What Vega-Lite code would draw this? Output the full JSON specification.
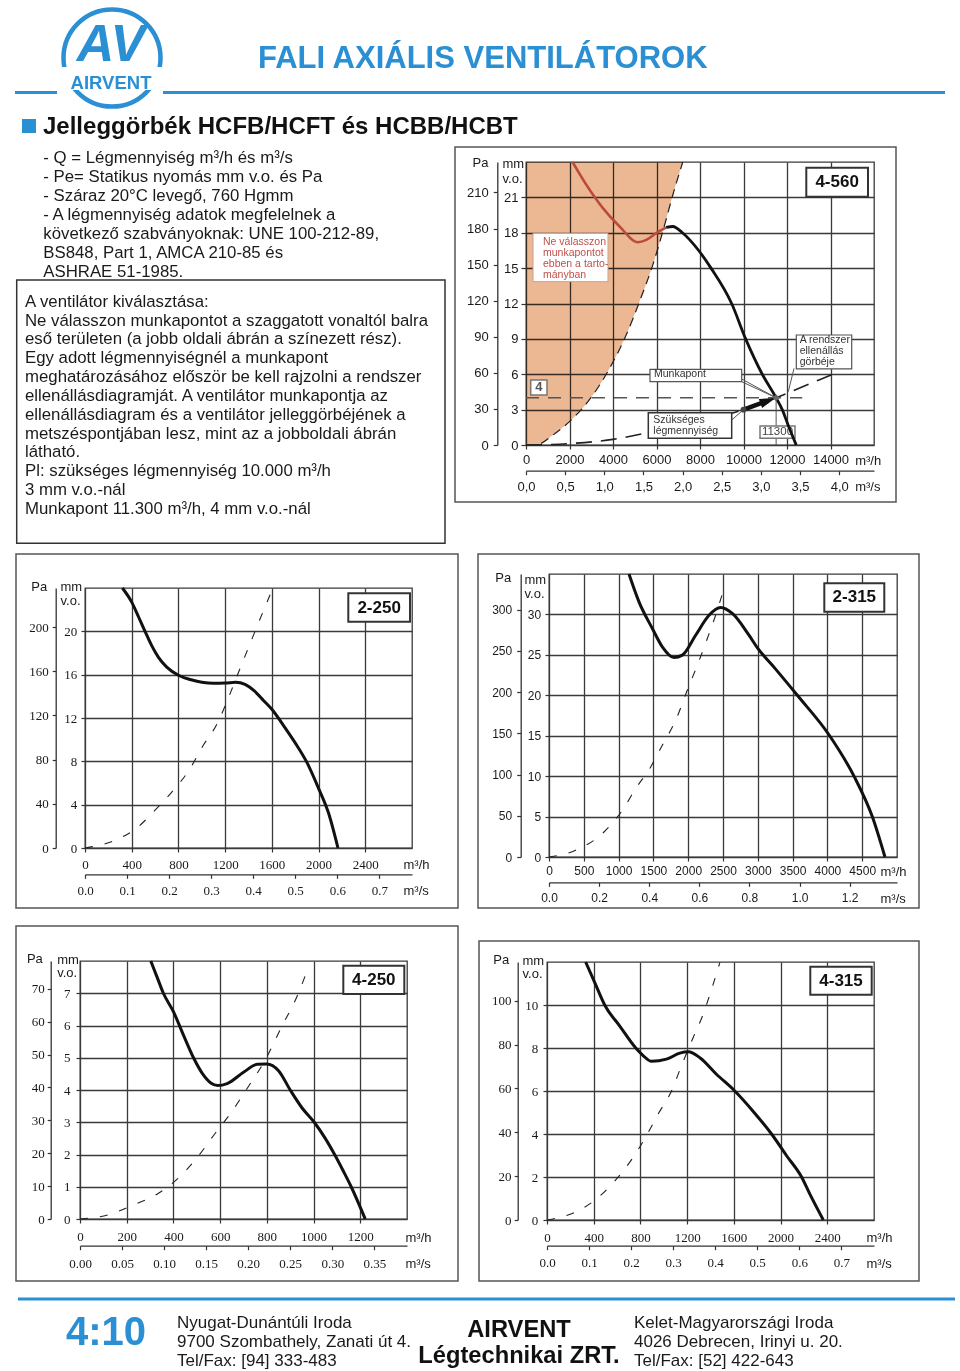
{
"$schema": "https://vega.github.io/schema/vega-lite/v6.json",
"padding": 0,
"background": "white",
"spacing": 0,
"config": {
  "font": "Liberation Sans",
  "view": {"stroke": null, "strokeWidth": 0},
  "axis": {"grid": false, "labelFlush": false, "labelOverlap": false, "gridColor": "#3a3a3a", "gridWidth": 1.3, "gridOpacity": 1, "tickColor": "#333", "tickWidth": 1.2, "domainColor": "#333", "domainWidth": 1.3, "labelColor": "#1a1a1a", "titleColor": "#1a1a1a", "titleFont": "Liberation Sans", "titleFontSize": 13, "titleFontWeight": "normal", "titleAngle": 0}
},
"datasets": {
  "zone_4560": [{"q":0,"mm":0},{"q":300,"mm":0.02},{"q":630,"mm":0.1},{"q":1240,"mm":0.85},{"q":2158,"mm":2.26},{"q":3076,"mm":4.24},{"q":3843,"mm":6.5},{"q":4610,"mm":9.34},{"q":5220,"mm":12.17},{"q":5831,"mm":15.28},{"q":6290,"mm":18.1},{"q":6749,"mm":21.2},{"q":7208,"mm":24}],
  "red_4560": [{"q":2140,"mm":24},{"q":2773,"mm":22.07},{"q":3535,"mm":20.09},{"q":4302,"mm":18.53},{"q":5143,"mm":17.2},{"q":5528,"mm":17.4},{"q":5987,"mm":17.97},{"q":6446,"mm":18.45}],
  "fan_4560": [{"q":6446,"mm":18.45},{"q":6749,"mm":18.53},{"q":7191,"mm":18.0},{"q":7975,"mm":16.41},{"q":8507,"mm":15.0},{"q":9455,"mm":12.0},{"q":10098,"mm":9.0},{"q":10863,"mm":6.0},{"q":11500,"mm":4.0},{"q":11781,"mm":3.0},{"q":12050,"mm":1.7},{"q":12424,"mm":0}],
  "sys_4560": [{"q":0,"mm":0},{"q":2000,"mm":0.12},{"q":4000,"mm":0.48},{"q":5500,"mm":1.0},{"q":7000,"mm":1.55},{"q":8500,"mm":2.2},{"q":10000,"mm":3.0},{"q":11500,"mm":4.0},{"q":12800,"mm":5.0},{"q":14100,"mm":6.0}],
  "fan_2250": [{"q":320,"mm":24},{"q":400,"mm":22.7},{"q":460,"mm":21.3},{"q":514,"mm":20.0},{"q":570,"mm":18.7},{"q":629,"mm":17.6},{"q":700,"mm":16.7},{"q":800,"mm":15.95},{"q":900,"mm":15.55},{"q":1000,"mm":15.3},{"q":1100,"mm":15.2},{"q":1200,"mm":15.22},{"q":1290,"mm":15.3},{"q":1370,"mm":15.1},{"q":1450,"mm":14.5},{"q":1530,"mm":13.6},{"q":1600,"mm":12.8},{"q":1700,"mm":11.3},{"q":1800,"mm":9.7},{"q":1900,"mm":7.9},{"q":2000,"mm":5.5},{"q":2086,"mm":3.2},{"q":2166,"mm":0}],
  "sys_2250": [{"q":0,"mm":0},{"q":257,"mm":0.71},{"q":443,"mm":1.85},{"q":600,"mm":3.49},{"q":757,"mm":5.34},{"q":886,"mm":7.1},{"q":1014,"mm":9.5},{"q":1129,"mm":11.42},{"q":1229,"mm":13.89},{"q":1314,"mm":16.2},{"q":1400,"mm":18.5},{"q":1486,"mm":20.8},{"q":1586,"mm":23.4}],
  "fan_2315": [{"q":1149,"mm":35},{"q":1293,"mm":31.56},{"q":1485,"mm":28.26},{"q":1628,"mm":26.0},{"q":1796,"mm":24.67},{"q":1916,"mm":24.96},{"q":2107,"mm":27.43},{"q":2299,"mm":29.9},{"q":2466,"mm":30.86},{"q":2634,"mm":30.12},{"q":2873,"mm":27.43},{"q":3000,"mm":25.8},{"q":3250,"mm":23.3},{"q":3568,"mm":20.0},{"q":4032,"mm":15.0},{"q":4382,"mm":10.0},{"q":4645,"mm":5.0},{"q":4827,"mm":0}],
  "sys_2315": [{"q":0,"mm":0},{"q":383,"mm":0.83},{"q":790,"mm":3.09},{"q":1054,"mm":5.78},{"q":1245,"mm":8.46},{"q":1461,"mm":11.14},{"q":1628,"mm":13.82},{"q":1820,"mm":16.91},{"q":1987,"mm":20.63},{"q":2131,"mm":23.72},{"q":2275,"mm":27.02},{"q":2394,"mm":29.9},{"q":2514,"mm":33.2}],
  "fan_4250": [{"q":303,"mm":8.0},{"q":330,"mm":7.5},{"q":357,"mm":7.0},{"q":400,"mm":6.43},{"q":443,"mm":5.7},{"q":486,"mm":5.0},{"q":525,"mm":4.5},{"q":560,"mm":4.22},{"q":590,"mm":4.14},{"q":630,"mm":4.2},{"q":700,"mm":4.55},{"q":760,"mm":4.8},{"q":800,"mm":4.81},{"q":850,"mm":4.6},{"q":900,"mm":4.0},{"q":950,"mm":3.45},{"q":1003,"mm":3.0},{"q":1050,"mm":2.5},{"q":1090,"mm":2.0},{"q":1130,"mm":1.45},{"q":1161,"mm":1.0},{"q":1221,"mm":0}],
  "sys_4250": [{"q":0,"mm":0},{"q":121,"mm":0.13},{"q":221,"mm":0.41},{"q":336,"mm":0.8},{"q":421,"mm":1.27},{"q":500,"mm":1.89},{"q":579,"mm":2.66},{"q":650,"mm":3.33},{"q":721,"mm":4.11},{"q":793,"mm":4.93},{"q":864,"mm":5.97},{"q":929,"mm":6.9},{"q":979,"mm":7.83}],
  "fan_4315": [{"q":331,"mm":12.0},{"q":409,"mm":11.04},{"q":494,"mm":10.0},{"q":623,"mm":9.02},{"q":760,"mm":8.0},{"q":823,"mm":7.65},{"q":894,"mm":7.38},{"q":1023,"mm":7.48},{"q":1137,"mm":7.76},{"q":1209,"mm":7.82},{"q":1309,"mm":7.55},{"q":1451,"mm":6.78},{"q":1608,"mm":6.0},{"q":1766,"mm":5.05},{"q":1923,"mm":4.0},{"q":2050,"mm":3.0},{"q":2180,"mm":2.0},{"q":2251,"mm":1.2},{"q":2366,"mm":0}],
  "sys_4315": [{"q":0,"mm":0},{"q":251,"mm":0.39},{"q":423,"mm":0.98},{"q":594,"mm":1.9},{"q":737,"mm":2.91},{"q":851,"mm":3.92},{"q":951,"mm":4.92},{"q":1066,"mm":6.0},{"q":1151,"mm":7.17},{"q":1251,"mm":8.48},{"q":1337,"mm":9.57},{"q":1409,"mm":10.73},{"q":1480,"mm":11.97}]
},
"vconcat": [
  {
    "width": 960, "height": 137, "view": {"stroke": null, "strokeWidth": 0},
    "layer": [
      {"data": {"values": [{}]}, "mark": {"type": "point", "shape": "circle", "filled": false, "size": 9409, "strokeWidth": 4.5, "color": "#2B8FD3", "opacity": 1},
       "encoding": {"x": {"datum": 112, "type": "quantitative", "scale": {"domain": [0, 960], "nice": false, "zero": false}, "axis": null},
                    "y": {"datum": 55, "type": "quantitative", "scale": {"domain": [0, 137], "nice": false, "zero": false, "reverse": true}, "axis": null}}},
      {"data": {"values": [{}]}, "mark": {"type": "rect", "fill": "white"},
       "encoding": {"x": {"datum": 58, "type": "quantitative", "axis": null}, "x2": {"datum": 167}, "y": {"datum": 64, "type": "quantitative", "axis": null}, "y2": {"datum": 87}}},
      {"data": {"values": [{"t": "AV"}]}, "mark": {"type": "text", "fontSize": 52, "fontWeight": "bold", "fontStyle": "italic", "color": "#2B8FD3", "align": "center", "baseline": "alphabetic"},
       "encoding": {"text": {"field": "t"}, "x": {"datum": 111, "type": "quantitative", "axis": null}, "y": {"datum": 58, "type": "quantitative", "axis": null}}},
      {"data": {"values": [{"t": "AIRVENT"}]}, "mark": {"type": "text", "fontSize": 18.5, "fontWeight": "bold", "color": "#2B8FD3", "align": "center", "baseline": "alphabetic"},
       "encoding": {"text": {"field": "t"}, "x": {"datum": 111, "type": "quantitative", "axis": null}, "y": {"datum": 86, "type": "quantitative", "axis": null}}},
      {"data": {"values": [{}]}, "mark": {"type": "rule", "color": "#2B8FD3", "strokeWidth": 3.2},
       "encoding": {"x": {"datum": 15, "type": "quantitative", "axis": null}, "x2": {"datum": 57}, "y": {"datum": 89.5, "type": "quantitative", "axis": null}}},
      {"data": {"values": [{}]}, "mark": {"type": "rule", "color": "#2B8FD3", "strokeWidth": 3.2},
       "encoding": {"x": {"datum": 163, "type": "quantitative", "axis": null}, "x2": {"datum": 945}, "y": {"datum": 89.5, "type": "quantitative", "axis": null}}},
      {"data": {"values": [{"t": "FALI AXIÁLIS VENTILÁTOROK"}]}, "mark": {"type": "text", "fontSize": 31, "fontWeight": "bold", "color": "#2B8FD3", "align": "left", "baseline": "alphabetic"},
       "encoding": {"text": {"field": "t"}, "x": {"datum": 258, "type": "quantitative", "axis": null}, "y": {"datum": 65, "type": "quantitative", "axis": null}}},
      {"data": {"values": [{}]}, "mark": {"type": "rect", "fill": "#2B8FD3"},
       "encoding": {"x": {"datum": 22, "type": "quantitative", "axis": null}, "x2": {"datum": 36}, "y": {"datum": 116, "type": "quantitative", "axis": null}, "y2": {"datum": 130}}},
      {"data": {"values": [{"t": "Jelleggörbék HCFB/HCFT és HCBB/HCBT"}]}, "mark": {"type": "text", "fontSize": 24, "fontWeight": "bold", "color": "#111", "align": "left", "baseline": "alphabetic"},
       "encoding": {"text": {"field": "t"}, "x": {"datum": 43, "type": "quantitative", "axis": null}, "y": {"datum": 131, "type": "quantitative", "axis": null}}}
    ]
  },
  {
    "spacing": 0,
    "hconcat": [
      {
        "width": 450, "height": 407, "view": {"stroke": null, "strokeWidth": 0},
        "layer": [
          {"data": {"values": [{"lines": ["- Q = Légmennyiség m³/h és m³/s", "- Pe= Statikus nyomás mm v.o. és Pa", "- Száraz 20°C levegő, 760 Hgmm", "- A légmennyiség adatok megfelelnek a", "\u00a0\u00a0következő szabványoknak: UNE 100-212-89,", "\u00a0\u00a0BS848, Part 1, AMCA 210-85 és", "\u00a0\u00a0ASHRAE 51-1985."]}]},
           "mark": {"type": "text", "fontSize": 16.8, "color": "#1a1a1a", "align": "left", "baseline": "alphabetic", "lineHeight": 19.1},
           "encoding": {"text": {"field": "lines"}, "x": {"datum": 43.3, "type": "quantitative", "scale": {"domain": [0, 450], "nice": false, "zero": false}, "axis": null},
                        "y": {"datum": 162.7, "type": "quantitative", "scale": {"domain": [140, 547], "nice": false, "zero": false, "reverse": true}, "axis": null}}},
          {"data": {"values": [{}]}, "mark": {"type": "rect", "filled": false, "stroke": "#333", "strokeWidth": 1.5},
           "encoding": {"x": {"datum": 16.7, "type": "quantitative", "axis": null}, "x2": {"datum": 445}, "y": {"datum": 280, "type": "quantitative", "axis": null}, "y2": {"datum": 543.3}}},
          {"data": {"values": [{"lines": ["A ventilátor kiválasztása:", "Ne válasszon munkapontot a szaggatott vonaltól balra", "eső területen (a jobb oldali ábrán a színezett rész).", "Egy adott légmennyiségnél a munkapont", "meghatározásához először be kell rajzolni a rendszer", "ellenállásdiagramját. A ventilátor munkapontja az", "ellenállásdiagram és a ventilátor jelleggörbéjének a", "metszéspontjában lesz, mint az a jobboldali ábrán", "látható.", "\u00a0", "Pl: szükséges légmennyiség 10.000 m³/h", "\u00a0\u00a0\u00a0\u00a0\u00a03 mm v.o.-nál", "\u00a0\u00a0\u00a0\u00a0\u00a0Munkapont 11.300 m³/h, 4 mm v.o.-nál"]}]},
           "mark": {"type": "text", "fontSize": 16.8, "color": "#1a1a1a", "align": "left", "baseline": "alphabetic", "lineHeight": 18.84},
           "encoding": {"text": {"field": "lines"}, "x": {"datum": 25, "type": "quantitative", "axis": null}, "y": {"datum": 306.7, "type": "quantitative", "axis": null}}}
        ]
      },
      {"spacing": 0, "hconcat": [
        {"width": 1, "height": 1, "view": {"stroke": null, "strokeWidth": 0}, "data": {"values": [{}]}, "mark": {"type": "rect", "opacity": 0}, "encoding": {"x": {"datum": 0, "type": "quantitative", "scale": {"domain": [0, 1], "nice": false, "zero": false}, "axis": null}, "x2": {"datum": 1}, "y": {"datum": 0, "type": "quantitative", "scale": {"domain": [0, 1], "nice": false, "zero": false}, "axis": null}, "y2": {"datum": 1}}},
        {"spacing": 0, "vconcat": [
          {"width": 1, "height": 1, "view": {"stroke": null, "strokeWidth": 0}, "data": {"values": [{}]}, "mark": {"type": "rect", "opacity": 0}, "encoding": {"x": {"datum": 0, "type": "quantitative", "scale": {"domain": [0, 1], "nice": false, "zero": false}, "axis": null}, "x2": {"datum": 1}, "y": {"datum": 0, "type": "quantitative", "scale": {"domain": [0, 1], "nice": false, "zero": false}, "axis": null}, "y2": {"datum": 1}}},
          {
            "width": 348, "height": 283, "view": {"stroke": "#3a3a3a", "strokeWidth": 1.3},
            "layer": [
              {"data": {"values": [{}]}, "mark": {"type": "rect", "opacity": 0},
               "encoding": {"x": {"datum": -3388.5, "type": "quantitative", "scale": {"domain": [0, 16000], "nice": false, "zero": false}, "axis": null}, "x2": {"datum": 19940.2},
                            "y": {"datum": 25.6707, "type": "quantitative", "scale": {"domain": [0, 24], "nice": false, "zero": false}, "axis": null}, "y2": {"datum": -8.6247}}},
              {"data": {"values": [{}]}, "mark": {"type": "rect", "filled": false, "stroke": "#555", "strokeWidth": 1.5},
               "encoding": {"x": {"datum": -3264.4, "type": "quantitative", "axis": null}, "x2": {"datum": 17011.5}, "y": {"datum": 25.272, "type": "quantitative", "axis": null}, "y2": {"datum": -4.834}}},
              {"data": {"name": "zone_4560"}, "mark": {"type": "area", "interpolate": "monotone", "color": "#EBB893", "opacity": 1, "blend": "multiply"},
               "encoding": {"x": {"field": "q", "type": "quantitative", "axis": null}, "y": {"field": "mm", "type": "quantitative", "axis": null}, "y2": {"datum": 24}}},
              {"data": {"name": "zone_4560"}, "mark": {"type": "line", "interpolate": "monotone", "color": "#222", "strokeWidth": 1.2, "strokeDash": [9, 6]},
               "encoding": {"x": {"field": "q", "type": "quantitative", "axis": null}, "y": {"field": "mm", "type": "quantitative", "axis": null}}},
              {"data": {"name": "sys_4560"}, "mark": {"type": "line", "interpolate": "monotone", "color": "#222", "strokeWidth": 1.6, "strokeDash": [16, 9]},
               "encoding": {"x": {"field": "q", "type": "quantitative", "axis": {"orient": "bottom", "offset": 25.7, "values": [0, 1800, 3600, 5400, 7200, 9000, 10800, 12600, 14400], "labelExpr": "replace(format(datum.value/3600,'.1f'),'.',',')", "domain": true, "tickSize": 4, "labelFontSize": 13, "labelPadding": 5.4, "title": "m³/s", "titleX": 328.7, "titleY": 19.7, "titleAlign": "left", "titleBaseline": "alphabetic", "titleAngle": 0}},
                            "y": {"field": "mm", "type": "quantitative", "axis": {"orient": "left", "offset": 28.7, "values": [0, 3.0591, 6.1183, 9.1774, 12.2366, 15.2957, 18.3549, 21.414], "labelExpr": "format(round(datum.value*9.80665),'d')", "domain": true, "tickSize": 4, "labelFontSize": 13, "labelPadding": 5, "title": "Pa", "titleX": -9.3, "titleY": 4, "titleAlign": "right", "titleBaseline": "alphabetic", "titleAngle": 0}}}},
              {"data": {"values": [{}]}, "mark": {"type": "rule", "color": "#555", "strokeWidth": 1.5, "strokeDash": [13, 9]},
               "encoding": {"x": {"datum": 0, "type": "quantitative", "axis": null}, "x2": {"datum": 12700}, "y": {"datum": 4, "type": "quantitative", "axis": null}}},
              {"data": {"values": [{}]}, "mark": {"type": "rule", "color": "#555", "strokeWidth": 1},
               "encoding": {"x": {"datum": 11500, "type": "quantitative", "axis": null}, "y": {"datum": 4, "type": "quantitative", "axis": null}, "y2": {"datum": 0}}},
              {"data": {"values": [{}]}, "mark": {"type": "rect", "fill": "white", "stroke": "#777", "strokeWidth": 1.5},
               "encoding": {"x": {"datum": 10759, "type": "quantitative", "axis": null}, "x2": {"datum": 12368}, "y": {"datum": 1.61, "type": "quantitative", "axis": null}, "y2": {"datum": 0.57}}},
              {"data": {"values": [{"lines": "11300"}]}, "mark": {"type": "text", "fontSize": 11.5, "color": "#444", "align": "center", "baseline": "middle"},
               "encoding": {"text": {"field": "lines"}, "x": {"datum": 11563, "type": "quantitative", "axis": null}, "y": {"datum": 1.09, "type": "quantitative", "axis": null}}},
              {"data": {"name": "red_4560"}, "mark": {"type": "line", "interpolate": "monotone", "color": "#BE4A3C", "strokeWidth": 2.5},
               "encoding": {"x": {"field": "q", "type": "quantitative", "axis": null}, "y": {"field": "mm", "type": "quantitative", "axis": null}}},
              {"data": {"name": "fan_4560"}, "mark": {"type": "line", "interpolate": "monotone", "color": "#111", "strokeWidth": 2.8},
               "encoding": {"x": {"field": "q", "type": "quantitative", "axis": {"orient": "bottom", "values": [0, 2000, 4000, 6000, 8000, 10000, 12000, 14000], "format": "d", "grid": true, "domain": false, "tickSize": 4, "labelFontSize": 13, "labelPadding": 4.7, "title": "m³/h", "titleX": 328.7, "titleY": 19, "titleAlign": "left", "titleBaseline": "alphabetic", "titleAngle": 0}},
                            "y": {"field": "mm", "type": "quantitative", "axis": {"orient": "left", "values": [0, 3, 6, 9, 12, 15, 18, 21], "format": "d", "grid": true, "domain": false, "tickSize": 5, "labelFontSize": 13, "labelPadding": 3, "title": ["mm", "v.o."], "titleX": -24, "titleY": 5, "titleAlign": "left", "titleBaseline": "alphabetic", "titleAngle": 0, "titleLineHeight": 15}}}},
              {"data": {"values": [{}]}, "mark": {"type": "rule", "color": "#555", "strokeWidth": 1},
               "encoding": {"x": {"datum": 9917, "type": "quantitative", "axis": null}, "x2": {"datum": 11500}, "y": {"datum": 5.6, "type": "quantitative", "axis": null}, "y2": {"datum": 4.0}}},
              {"data": {"values": [{}]}, "mark": {"type": "rule", "color": "#555", "strokeWidth": 1},
               "encoding": {"x": {"datum": 9917, "type": "quantitative", "axis": null}, "x2": {"datum": 11500}, "y": {"datum": 5.37, "type": "quantitative", "axis": null}, "y2": {"datum": 4.0}}},
              {"data": {"values": [{}]}, "mark": {"type": "rule", "color": "#555", "strokeWidth": 1},
               "encoding": {"x": {"datum": 12322, "type": "quantitative", "axis": null}, "x2": {"datum": 12060}, "y": {"datum": 6.5, "type": "quantitative", "axis": null}, "y2": {"datum": 4.52}}},
              {"data": {"values": [{}]}, "mark": {"type": "rule", "color": "#555", "strokeWidth": 1},
               "encoding": {"x": {"datum": 9457, "type": "quantitative", "axis": null}, "x2": {"datum": 10000}, "y": {"datum": 2.12, "type": "quantitative", "axis": null}, "y2": {"datum": 3.0}}},
              {"data": {"values": [{}]}, "mark": {"type": "rect", "fill": "white", "stroke": "#C9A090", "strokeWidth": 1},
               "encoding": {"x": {"datum": 322, "type": "quantitative", "axis": null}, "x2": {"datum": 3770}, "y": {"datum": 17.95, "type": "quantitative", "axis": null}, "y2": {"datum": 13.85}}},
              {"data": {"values": [{}]}, "mark": {"type": "rect", "fill": "white", "stroke": "#555", "strokeWidth": 1.2},
               "encoding": {"x": {"datum": 5701, "type": "quantitative", "axis": null}, "x2": {"datum": 9917}, "y": {"datum": 6.42, "type": "quantitative", "axis": null}, "y2": {"datum": 5.37}}},
              {"data": {"values": [{}]}, "mark": {"type": "rect", "fill": "white", "stroke": "#555", "strokeWidth": 1.2},
               "encoding": {"x": {"datum": 12428, "type": "quantitative", "axis": null}, "x2": {"datum": 14975}, "y": {"datum": 9.33, "type": "quantitative", "axis": null}, "y2": {"datum": 6.45}}},
              {"data": {"values": [{}]}, "mark": {"type": "rect", "fill": "white", "stroke": "#333", "strokeWidth": 1.5},
               "encoding": {"x": {"datum": 5623, "type": "quantitative", "axis": null}, "x2": {"datum": 9457}, "y": {"datum": 2.74, "type": "quantitative", "axis": null}, "y2": {"datum": 0.57}}},
              {"data": {"values": [{}]}, "mark": {"type": "rect", "fill": "white", "stroke": "#777", "strokeWidth": 1.5},
               "encoding": {"x": {"datum": 216, "type": "quantitative", "axis": null}, "x2": {"datum": 966}, "y": {"datum": 5.51, "type": "quantitative", "axis": null}, "y2": {"datum": 4.24}}},
              {"data": {"values": [{}]}, "mark": {"type": "rect", "fill": "white", "stroke": "#333", "strokeWidth": 2},
               "encoding": {"x": {"datum": 12887, "type": "quantitative", "axis": null}, "x2": {"datum": 15724}, "y": {"datum": 23.52, "type": "quantitative", "axis": null}, "y2": {"datum": 21.06}}},
              {"data": {"values": [{"lines": ["Ne válasszon", "munkapontot", "ebben a tarto-", "mányban"]}]}, "mark": {"type": "text", "fontSize": 10.5, "color": "#C0504A", "align": "left", "baseline": "alphabetic", "lineHeight": 11.1},
               "encoding": {"text": {"field": "lines"}, "x": {"datum": 782, "type": "quantitative", "axis": null}, "y": {"datum": 16.96, "type": "quantitative", "axis": null}}},
              {"data": {"values": [{"lines": "Munkapont"}]}, "mark": {"type": "text", "fontSize": 10.5, "color": "#333", "align": "left", "baseline": "alphabetic"},
               "encoding": {"text": {"field": "lines"}, "x": {"datum": 5885, "type": "quantitative", "axis": null}, "y": {"datum": 5.74, "type": "quantitative", "axis": null}}},
              {"data": {"values": [{"lines": ["A rendszer", "ellenállás", "görbéje"]}]}, "mark": {"type": "text", "fontSize": 10.5, "color": "#333", "align": "left", "baseline": "alphabetic", "lineHeight": 10.9},
               "encoding": {"text": {"field": "lines"}, "x": {"datum": 12584, "type": "quantitative", "axis": null}, "y": {"datum": 8.62, "type": "quantitative", "axis": null}}},
              {"data": {"values": [{"lines": ["Szükséges", "légmennyiség"]}]}, "mark": {"type": "text", "fontSize": 10.5, "color": "#333", "align": "left", "baseline": "alphabetic", "lineHeight": 11},
               "encoding": {"text": {"field": "lines"}, "x": {"datum": 5853, "type": "quantitative", "axis": null}, "y": {"datum": 1.84, "type": "quantitative", "axis": null}}},
              {"data": {"values": [{"lines": "4"}]}, "mark": {"type": "text", "fontSize": 13, "fontWeight": "bold", "color": "#555", "align": "center", "baseline": "middle"},
               "encoding": {"text": {"field": "lines"}, "x": {"datum": 591, "type": "quantitative", "axis": null}, "y": {"datum": 4.88, "type": "quantitative", "axis": null}}},
              {"data": {"values": [{"lines": "4-560"}]}, "mark": {"type": "text", "fontSize": 17, "fontWeight": "bold", "color": "#111", "align": "center", "baseline": "middle"},
               "encoding": {"text": {"field": "lines"}, "x": {"datum": 14305, "type": "quantitative", "axis": null}, "y": {"datum": 22.29, "type": "quantitative", "axis": null}}},
              {"data": {"values": [{}]}, "mark": {"type": "rule", "color": "#111", "strokeWidth": 4.5},
               "encoding": {"x": {"datum": 10000, "type": "quantitative", "axis": null}, "x2": {"datum": 11125}, "y": {"datum": 3.0, "type": "quantitative", "axis": null}, "y2": {"datum": 3.75}}},
              {"data": {"values": [{}]}, "mark": {"type": "point", "shape": "M-1,-0.6L1,0L-1,0.6Z", "size": 256, "angle": 340, "filled": true, "color": "#111", "opacity": 1},
               "encoding": {"x": {"datum": 11125, "type": "quantitative", "axis": null}, "y": {"datum": 3.75, "type": "quantitative", "axis": null}}},
              {"data": {"values": [{}]}, "mark": {"type": "point", "shape": "circle", "size": 35, "filled": true, "color": "#444", "opacity": 1},
               "encoding": {"x": {"datum": 10000, "type": "quantitative", "axis": null}, "y": {"datum": 3.0, "type": "quantitative", "axis": null}}},
              {"data": {"values": [{}]}, "mark": {"type": "point", "shape": "diamond", "size": 50, "filled": true, "color": "#666", "opacity": 1},
               "encoding": {"x": {"datum": 11500, "type": "quantitative", "axis": null}, "y": {"datum": 4.0, "type": "quantitative", "axis": null}}}
            ],
            "resolve": {"axis": {"x": "independent", "y": "independent"}}
          }
        ]}
      ]}
    ]
  },
  {
    "spacing": 0,
    "hconcat": [
      {"spacing": 0, "hconcat": [
        {"width": 1, "height": 1, "view": {"stroke": null, "strokeWidth": 0}, "data": {"values": [{}]}, "mark": {"type": "rect", "opacity": 0}, "encoding": {"x": {"datum": 0, "type": "quantitative", "scale": {"domain": [0, 1], "nice": false, "zero": false}, "axis": null}, "x2": {"datum": 1}, "y": {"datum": 0, "type": "quantitative", "scale": {"domain": [0, 1], "nice": false, "zero": false}, "axis": null}, "y2": {"datum": 1}}},
        {"spacing": 0, "vconcat": [
          {"width": 1, "height": 1, "view": {"stroke": null, "strokeWidth": 0}, "data": {"values": [{}]}, "mark": {"type": "rect", "opacity": 0}, "encoding": {"x": {"datum": 0, "type": "quantitative", "scale": {"domain": [0, 1], "nice": false, "zero": false}, "axis": null}, "x2": {"datum": 1}, "y": {"datum": 0, "type": "quantitative", "scale": {"domain": [0, 1], "nice": false, "zero": false}, "axis": null}, "y2": {"datum": 1}}},
          {
            "width": 327, "height": 260, "view": {"stroke": "#3a3a3a", "strokeWidth": 1.3},
            "layer": [
              {"data": {"values": [{}]}, "mark": {"type": "rect", "opacity": 0},
               "encoding": {"x": {"datum": -708.1, "type": "quantitative", "scale": {"domain": [0, 2800], "nice": false, "zero": false}, "axis": null}, "x2": {"datum": 3268.4},
                            "y": {"datum": 27.48, "type": "quantitative", "scale": {"domain": [0, 24], "nice": false, "zero": false}, "axis": null}, "y2": {"datum": -6.2492}}},
              {"data": {"values": [{}]}, "mark": {"type": "rect", "filled": false, "stroke": "#555", "strokeWidth": 1.5},
               "encoding": {"x": {"datum": -590.8, "type": "quantitative", "axis": null}, "x2": {"datum": 3193.9}, "y": {"datum": 27.14, "type": "quantitative", "axis": null}, "y2": {"datum": -5.538}}},
              {"data": {"name": "sys_2250"}, "mark": {"type": "line", "interpolate": "monotone", "color": "#222", "strokeWidth": 1.1, "strokeDash": [8, 12]},
               "encoding": {"x": {"field": "q", "type": "quantitative", "axis": {"orient": "bottom", "offset": 26.3, "values": [0, 360, 720, 1080, 1440, 1800, 2160, 2520], "labelExpr": "format(datum.value/3600,'.1f')", "domain": true, "tickSize": 4, "labelFont": "Liberation Serif", "labelFontSize": 13, "labelPadding": 6, "title": "m³/s", "titleX": 318, "titleY": 20.3, "titleAlign": "left", "titleBaseline": "alphabetic", "titleAngle": 0}},
                            "y": {"field": "mm", "type": "quantitative", "axis": {"orient": "left", "offset": 29.3, "values": [0, 4.0789, 8.1577, 12.2366, 16.3155, 20.3943], "labelExpr": "format(round(datum.value*9.80665),'d')", "domain": true, "tickSize": 3.5, "labelFont": "Liberation Serif", "labelFontSize": 13, "labelPadding": 4, "title": "Pa", "titleX": -9, "titleY": 2, "titleAlign": "right", "titleBaseline": "alphabetic", "titleAngle": 0}}}},
              {"data": {"name": "fan_2250"}, "mark": {"type": "line", "interpolate": "monotone", "color": "#111", "strokeWidth": 3},
               "encoding": {"x": {"field": "q", "type": "quantitative", "axis": {"orient": "bottom", "values": [0, 400, 800, 1200, 1600, 2000, 2400], "format": "d", "grid": true, "domain": false, "tickSize": 4, "labelFont": "Liberation Serif", "labelFontSize": 13, "labelPadding": 6.5, "title": "m³/h", "titleX": 318, "titleY": 20.8, "titleAlign": "left", "titleBaseline": "alphabetic", "titleAngle": 0}},
                            "y": {"field": "mm", "type": "quantitative", "axis": {"orient": "left", "values": [0, 4, 8, 12, 16, 20], "format": "d", "grid": true, "domain": false, "tickSize": 4, "labelFont": "Liberation Serif", "labelFontSize": 13, "labelPadding": 4.3, "title": ["mm", "v.o."], "titleX": -25, "titleY": 2.7, "titleAlign": "left", "titleBaseline": "alphabetic", "titleAngle": 0, "titleLineHeight": 14.3}}}},
              {"data": {"values": [{}]}, "mark": {"type": "rect", "fill": "white", "stroke": "#333", "strokeWidth": 2},
               "encoding": {"x": {"datum": 2254.5, "type": "quantitative", "axis": null}, "x2": {"datum": 2782.8}, "y": {"datum": 23.51, "type": "quantitative", "axis": null}, "y2": {"datum": 20.89}}},
              {"data": {"values": [{"lines": "2-250"}]}, "mark": {"type": "text", "fontSize": 17, "fontWeight": "bold", "color": "#111", "align": "center", "baseline": "middle"},
               "encoding": {"text": {"field": "lines"}, "x": {"datum": 2518.6, "type": "quantitative", "axis": null}, "y": {"datum": 22.2, "type": "quantitative", "axis": null}}}
            ],
            "resolve": {"axis": {"x": "independent", "y": "independent"}}
          }
        ]}
      ]},
      {"spacing": 0, "hconcat": [
        {"width": 1, "height": 1, "view": {"stroke": null, "strokeWidth": 0}, "data": {"values": [{}]}, "mark": {"type": "rect", "opacity": 0}, "encoding": {"x": {"datum": 0, "type": "quantitative", "scale": {"domain": [0, 1], "nice": false, "zero": false}, "axis": null}, "x2": {"datum": 1}, "y": {"datum": 0, "type": "quantitative", "scale": {"domain": [0, 1], "nice": false, "zero": false}, "axis": null}, "y2": {"datum": 1}}},
        {"spacing": 0, "vconcat": [
          {"width": 1, "height": 1, "view": {"stroke": null, "strokeWidth": 0}, "data": {"values": [{}]}, "mark": {"type": "rect", "opacity": 0}, "encoding": {"x": {"datum": 0, "type": "quantitative", "scale": {"domain": [0, 1], "nice": false, "zero": false}, "axis": null}, "x2": {"datum": 1}, "y": {"datum": 0, "type": "quantitative", "scale": {"domain": [0, 1], "nice": false, "zero": false}, "axis": null}, "y2": {"datum": 1}}},
          {
            "width": 348, "height": 283, "view": {"stroke": "#3a3a3a", "strokeWidth": 1.3},
            "layer": [
              {"data": {"values": [{}]}, "mark": {"type": "rect", "opacity": 0},
               "encoding": {"x": {"datum": -1130.7, "type": "quantitative", "scale": {"domain": [0, 5000], "nice": false, "zero": false}, "axis": null}, "x2": {"datum": 5915.2},
                            "y": {"datum": 37.931, "type": "quantitative", "scale": {"domain": [0, 35], "nice": false, "zero": false}, "axis": null}, "y2": {"datum": -7.2597}}},
              {"data": {"values": [{}]}, "mark": {"type": "rect", "filled": false, "stroke": "#555", "strokeWidth": 1.5},
               "encoding": {"x": {"datum": -1020.1, "type": "quantitative", "axis": null}, "x2": {"datum": 5316.1}, "y": {"datum": 37.473, "type": "quantitative", "axis": null}, "y2": {"datum": -6.307}}},
              {"data": {"name": "sys_2315"}, "mark": {"type": "line", "interpolate": "monotone", "color": "#222", "strokeWidth": 1.1, "strokeDash": [8, 12]},
               "encoding": {"x": {"field": "q", "type": "quantitative", "axis": {"orient": "bottom", "offset": 25.3, "values": [0, 720, 1440, 2160, 2880, 3600, 4320], "labelExpr": "format(datum.value/3600,'.1f')", "domain": true, "tickSize": 4, "labelFontSize": 12, "labelPadding": 6.2, "title": "m³/s", "titleX": 331, "titleY": 19.7, "titleAlign": "left", "titleBaseline": "alphabetic", "titleAngle": 0}},
                            "y": {"field": "mm", "type": "quantitative", "axis": {"orient": "left", "offset": 28.3, "values": [0, 5.0986, 10.1972, 15.2957, 20.3943, 25.4929, 30.5915], "labelExpr": "format(round(datum.value*9.80665),'d')", "domain": true, "tickSize": 4, "labelFontSize": 12, "labelPadding": 5, "title": "Pa", "titleX": -10, "titleY": 7.7, "titleAlign": "right", "titleBaseline": "alphabetic", "titleAngle": 0}}}},
              {"data": {"name": "fan_2315"}, "mark": {"type": "line", "interpolate": "monotone", "color": "#111", "strokeWidth": 3},
               "encoding": {"x": {"field": "q", "type": "quantitative", "axis": {"orient": "bottom", "values": [0, 500, 1000, 1500, 2000, 2500, 3000, 3500, 4000, 4500], "format": "d", "grid": true, "domain": false, "tickSize": 4, "labelFontSize": 12, "labelPadding": 4.8, "title": "m³/h", "titleX": 331, "titleY": 18.3, "titleAlign": "left", "titleBaseline": "alphabetic", "titleAngle": 0}},
                            "y": {"field": "mm", "type": "quantitative", "axis": {"orient": "left", "values": [0, 5, 10, 15, 20, 25, 30], "format": "d", "grid": true, "domain": false, "tickSize": 4, "labelFontSize": 12, "labelPadding": 4.3, "title": ["mm", "v.o."], "titleX": -25, "titleY": 9.3, "titleAlign": "left", "titleBaseline": "alphabetic", "titleAngle": 0, "titleLineHeight": 14.4}}}},
              {"data": {"values": [{}]}, "mark": {"type": "rect", "fill": "white", "stroke": "#333", "strokeWidth": 2},
               "encoding": {"x": {"datum": 3955.5, "type": "quantitative", "axis": null}, "x2": {"datum": 4817.5}, "y": {"datum": 33.85, "type": "quantitative", "axis": null}, "y2": {"datum": 30.34}}},
              {"data": {"values": [{"lines": "2-315"}]}, "mark": {"type": "text", "fontSize": 17, "fontWeight": "bold", "color": "#111", "align": "center", "baseline": "middle"},
               "encoding": {"text": {"field": "lines"}, "x": {"datum": 4386.5, "type": "quantitative", "axis": null}, "y": {"datum": 32.1, "type": "quantitative", "axis": null}}}
            ],
            "resolve": {"axis": {"x": "independent", "y": "independent"}}
          }
        ]}
      ]}
    ]
  },
  {
    "spacing": 0,
    "hconcat": [
      {"spacing": 0, "hconcat": [
        {"width": 1, "height": 1, "view": {"stroke": null, "strokeWidth": 0}, "data": {"values": [{}]}, "mark": {"type": "rect", "opacity": 0}, "encoding": {"x": {"datum": 0, "type": "quantitative", "scale": {"domain": [0, 1], "nice": false, "zero": false}, "axis": null}, "x2": {"datum": 1}, "y": {"datum": 0, "type": "quantitative", "scale": {"domain": [0, 1], "nice": false, "zero": false}, "axis": null}, "y2": {"datum": 1}}},
        {"spacing": 0, "vconcat": [
          {"width": 1, "height": 1, "view": {"stroke": null, "strokeWidth": 0}, "data": {"values": [{}]}, "mark": {"type": "rect", "opacity": 0}, "encoding": {"x": {"datum": 0, "type": "quantitative", "scale": {"domain": [0, 1], "nice": false, "zero": false}, "axis": null}, "x2": {"datum": 1}, "y": {"datum": 0, "type": "quantitative", "scale": {"domain": [0, 1], "nice": false, "zero": false}, "axis": null}, "y2": {"datum": 1}}},
          {
            "width": 327, "height": 258, "view": {"stroke": "#3a3a3a", "strokeWidth": 1.3},
            "layer": [
              {"data": {"values": [{}]}, "mark": {"type": "rect", "opacity": 0},
               "encoding": {"x": {"datum": -332.7, "type": "quantitative", "scale": {"domain": [0, 1400], "nice": false, "zero": false}, "axis": null}, "x2": {"datum": 1655.6},
                            "y": {"datum": 9.293, "type": "quantitative", "scale": {"domain": [0, 8], "nice": false, "zero": false}, "axis": null}, "y2": {"datum": -2.1302}}},
              {"data": {"values": [{}]}, "mark": {"type": "rect", "filled": false, "stroke": "#555", "strokeWidth": 1.5},
               "encoding": {"x": {"datum": -274.0, "type": "quantitative", "axis": null}, "x2": {"datum": 1618.3}, "y": {"datum": 9.085, "type": "quantitative", "axis": null}, "y2": {"datum": -1.922}}},
              {"data": {"name": "sys_4250"}, "mark": {"type": "line", "interpolate": "monotone", "color": "#222", "strokeWidth": 1.1, "strokeDash": [8, 12]},
               "encoding": {"x": {"field": "q", "type": "quantitative", "axis": {"orient": "bottom", "offset": 26.7, "values": [0, 180, 360, 540, 720, 900, 1080, 1260], "labelExpr": "format(datum.value/3600,'.2f')", "domain": true, "tickSize": 4, "labelFont": "Liberation Serif", "labelFontSize": 13, "labelPadding": 7.7, "title": "m³/s", "titleX": 325, "titleY": 22, "titleAlign": "left", "titleBaseline": "alphabetic", "titleAngle": 0}},
                            "y": {"field": "mm", "type": "quantitative", "axis": {"orient": "left", "offset": 29.3, "values": [0, 1.0197, 2.0394, 3.0591, 4.0789, 5.0986, 6.1183, 7.138], "labelExpr": "format(round(datum.value*9.80665),'d')", "domain": true, "tickSize": 3.5, "labelFont": "Liberation Serif", "labelFontSize": 13, "labelPadding": 3, "title": "Pa", "titleX": -8.4, "titleY": 1.3, "titleAlign": "right", "titleBaseline": "alphabetic", "titleAngle": 0}}}},
              {"data": {"name": "fan_4250"}, "mark": {"type": "line", "interpolate": "monotone", "color": "#111", "strokeWidth": 3},
               "encoding": {"x": {"field": "q", "type": "quantitative", "axis": {"orient": "bottom", "values": [0, 200, 400, 600, 800, 1000, 1200], "format": "d", "grid": true, "domain": false, "tickSize": 4, "labelFont": "Liberation Serif", "labelFontSize": 13, "labelPadding": 7.7, "title": "m³/h", "titleX": 325, "titleY": 22, "titleAlign": "left", "titleBaseline": "alphabetic", "titleAngle": 0}},
                            "y": {"field": "mm", "type": "quantitative", "axis": {"orient": "left", "values": [0, 1, 2, 3, 4, 5, 6, 7], "format": "d", "grid": true, "domain": false, "tickSize": 4, "labelFont": "Liberation Serif", "labelFontSize": 13, "labelPadding": 6, "title": ["mm", "v.o."], "titleX": -23.3, "titleY": 2, "titleAlign": "left", "titleBaseline": "alphabetic", "titleAngle": 0, "titleLineHeight": 13.3}}}},
              {"data": {"values": [{}]}, "mark": {"type": "rect", "fill": "white", "stroke": "#333", "strokeWidth": 2},
               "encoding": {"x": {"datum": 1127.3, "type": "quantitative", "axis": null}, "x2": {"datum": 1388.5}, "y": {"datum": 7.854, "type": "quantitative", "axis": null}, "y2": {"datum": 6.977}}},
              {"data": {"values": [{"lines": "4-250"}]}, "mark": {"type": "text", "fontSize": 17, "fontWeight": "bold", "color": "#111", "align": "center", "baseline": "middle"},
               "encoding": {"text": {"field": "lines"}, "x": {"datum": 1257.9, "type": "quantitative", "axis": null}, "y": {"datum": 7.416, "type": "quantitative", "axis": null}}}
            ],
            "resolve": {"axis": {"x": "independent", "y": "independent"}}
          }
        ]}
      ]},
      {"spacing": 0, "hconcat": [
        {"width": 1, "height": 1, "view": {"stroke": null, "strokeWidth": 0}, "data": {"values": [{}]}, "mark": {"type": "rect", "opacity": 0}, "encoding": {"x": {"datum": 0, "type": "quantitative", "scale": {"domain": [0, 1], "nice": false, "zero": false}, "axis": null}, "x2": {"datum": 1}, "y": {"datum": 0, "type": "quantitative", "scale": {"domain": [0, 1], "nice": false, "zero": false}, "axis": null}, "y2": {"datum": 1}}},
        {"spacing": 0, "vconcat": [
          {"width": 1, "height": 1, "view": {"stroke": null, "strokeWidth": 0}, "data": {"values": [{}]}, "mark": {"type": "rect", "opacity": 0}, "encoding": {"x": {"datum": 0, "type": "quantitative", "scale": {"domain": [0, 1], "nice": false, "zero": false}, "axis": null}, "x2": {"datum": 1}, "y": {"datum": 0, "type": "quantitative", "scale": {"domain": [0, 1], "nice": false, "zero": false}, "axis": null}, "y2": {"datum": 1}}},
          {
            "width": 327, "height": 258, "view": {"stroke": "#3a3a3a", "strokeWidth": 1.3},
            "layer": [
              {"data": {"values": [{}]}, "mark": {"type": "rect", "opacity": 0},
               "encoding": {"x": {"datum": -656.8, "type": "quantitative", "scale": {"domain": [0, 2800], "nice": false, "zero": false}, "axis": null}, "x2": {"datum": 3542.4},
                            "y": {"datum": 13.986, "type": "quantitative", "scale": {"domain": [0, 12], "nice": false, "zero": false}, "axis": null}, "y2": {"datum": -3.1488}}},
              {"data": {"values": [{}]}, "mark": {"type": "rect", "filled": false, "stroke": "#555", "strokeWidth": 1.5},
               "encoding": {"x": {"datum": -582.2, "type": "quantitative", "axis": null}, "x2": {"datum": 3185.2}, "y": {"datum": 12.977, "type": "quantitative", "axis": null}, "y2": {"datum": -2.837}}},
              {"data": {"name": "sys_4315"}, "mark": {"type": "line", "interpolate": "monotone", "color": "#222", "strokeWidth": 1.1, "strokeDash": [8, 12]},
               "encoding": {"x": {"field": "q", "type": "quantitative", "axis": {"orient": "bottom", "offset": 25.7, "values": [0, 360, 720, 1080, 1440, 1800, 2160, 2520], "labelExpr": "format(datum.value/3600,'.1f')", "domain": true, "tickSize": 4, "labelFont": "Liberation Serif", "labelFontSize": 13, "labelPadding": 7, "title": "m³/s", "titleX": 319, "titleY": 21.3, "titleAlign": "left", "titleBaseline": "alphabetic", "titleAngle": 0}},
                            "y": {"field": "mm", "type": "quantitative", "axis": {"orient": "left", "offset": 29.3, "values": [0, 2.0394, 4.0789, 6.1183, 8.1577, 10.1972], "labelExpr": "format(round(datum.value*9.80665),'d')", "domain": true, "tickSize": 3.5, "labelFont": "Liberation Serif", "labelFontSize": 13, "labelPadding": 3.2, "title": "Pa", "titleX": -9, "titleY": 1, "titleAlign": "right", "titleBaseline": "alphabetic", "titleAngle": 0}}}},
              {"data": {"name": "fan_4315"}, "mark": {"type": "line", "interpolate": "monotone", "color": "#111", "strokeWidth": 3},
               "encoding": {"x": {"field": "q", "type": "quantitative", "axis": {"orient": "bottom", "values": [0, 400, 800, 1200, 1600, 2000, 2400], "format": "d", "grid": true, "domain": false, "tickSize": 4, "labelFont": "Liberation Serif", "labelFontSize": 13, "labelPadding": 7.1, "title": "m³/h", "titleX": 319, "titleY": 21.4, "titleAlign": "left", "titleBaseline": "alphabetic", "titleAngle": 0}},
                            "y": {"field": "mm", "type": "quantitative", "axis": {"orient": "left", "values": [0, 2, 4, 6, 8, 10], "format": "d", "grid": true, "domain": false, "tickSize": 4, "labelFont": "Liberation Serif", "labelFontSize": 13, "labelPadding": 5.3, "title": ["mm", "v.o."], "titleX": -25, "titleY": 2, "titleAlign": "left", "titleBaseline": "alphabetic", "titleAngle": 0, "titleLineHeight": 13.3}}}},
              {"data": {"values": [{}]}, "mark": {"type": "rect", "fill": "white", "stroke": "#333", "strokeWidth": 2},
               "encoding": {"x": {"datum": 2254.5, "type": "quantitative", "axis": null}, "x2": {"datum": 2780.2}, "y": {"datum": 11.78, "type": "quantitative", "axis": null}, "y2": {"datum": 10.48}}},
              {"data": {"values": [{"lines": "4-315"}]}, "mark": {"type": "text", "fontSize": 17, "fontWeight": "bold", "color": "#111", "align": "center", "baseline": "middle"},
               "encoding": {"text": {"field": "lines"}, "x": {"datum": 2517.4, "type": "quantitative", "axis": null}, "y": {"datum": 11.13, "type": "quantitative", "axis": null}}}
            ],
            "resolve": {"axis": {"x": "independent", "y": "independent"}}
          }
        ]}
      ]}
    ]
  },
  {
    "width": 960, "height": 83, "view": {"stroke": null, "strokeWidth": 0},
    "layer": [
      {"data": {"values": [{}]}, "mark": {"type": "rule", "color": "#2B8FD3", "strokeWidth": 3.2},
       "encoding": {"x": {"datum": 18, "type": "quantitative", "scale": {"domain": [0, 960], "nice": false, "zero": false}, "axis": null}, "x2": {"datum": 955},
                    "y": {"datum": 1298, "type": "quantitative", "scale": {"domain": [1288, 1371], "nice": false, "zero": false, "reverse": true}, "axis": null}}},
      {"data": {"values": [{"lines": "4:10"}]}, "mark": {"type": "text", "fontSize": 40, "fontWeight": "bold", "color": "#2B8FD3", "align": "left", "baseline": "alphabetic"},
       "encoding": {"text": {"field": "lines"}, "x": {"datum": 66, "type": "quantitative", "axis": null}, "y": {"datum": 1344, "type": "quantitative", "axis": null}}},
      {"data": {"values": [{"lines": ["Nyugat-Dunántúli Iroda", "9700 Szombathely, Zanati út 4.", "Tel/Fax: [94] 333-483"]}]}, "mark": {"type": "text", "fontSize": 17, "color": "#1a1a1a", "align": "left", "baseline": "alphabetic", "lineHeight": 19},
       "encoding": {"text": {"field": "lines"}, "x": {"datum": 177, "type": "quantitative", "axis": null}, "y": {"datum": 1327, "type": "quantitative", "axis": null}}},
      {"data": {"values": [{"lines": ["AIRVENT", "Légtechnikai ZRT."]}]}, "mark": {"type": "text", "fontSize": 23.7, "fontWeight": "bold", "color": "#111", "align": "center", "baseline": "alphabetic", "lineHeight": 26},
       "encoding": {"text": {"field": "lines"}, "x": {"datum": 519, "type": "quantitative", "axis": null}, "y": {"datum": 1336, "type": "quantitative", "axis": null}}},
      {"data": {"values": [{"lines": ["Kelet-Magyarországi Iroda", "4026 Debrecen, Irinyi u. 20.", "Tel/Fax: [52] 422-643"]}]}, "mark": {"type": "text", "fontSize": 17, "color": "#1a1a1a", "align": "left", "baseline": "alphabetic", "lineHeight": 19},
       "encoding": {"text": {"field": "lines"}, "x": {"datum": 634, "type": "quantitative", "axis": null}, "y": {"datum": 1327, "type": "quantitative", "axis": null}}}
    ]
  }
]
}
